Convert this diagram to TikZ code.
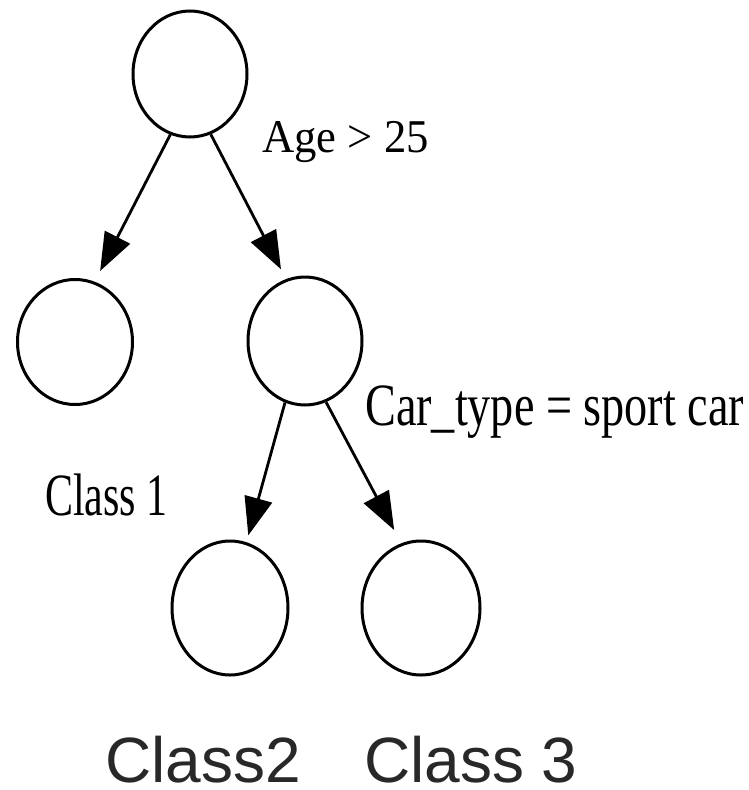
\documentclass[tikz,border=0pt]{standalone}
\usepackage{fontspec}
\setmainfont{Liberation Serif}
\newfontfamily\sansf{Liberation Sans}
\usetikzlibrary{shapes.geometric,arrows.meta}
\definecolor{darkgraytext}{HTML}{282828}
\tikzset{
  treenode/.style={draw=black, line width=3pt, ellipse, inner sep=0pt},
  treeedge/.style={line width=2.8pt, -{Triangle[length=38pt,width=28pt]}},
  condlabel/.style={anchor=base west, inner sep=0pt, text=black},
  classlabel/.style={anchor=base west, inner sep=0pt, text=darkgraytext, font=\sansf\fontsize{64}{64}\selectfont}
}
\begin{document}
\begin{tikzpicture}[x=1pt,y=-1pt]
\useasboundingbox (0,0) rectangle (749,790);
\fill[white] (0,0) rectangle (749,790);
\node[treenode, minimum width=114pt, minimum height=126pt] (root) at (190,74) {};
\node[treenode, minimum width=115pt, minimum height=125pt] (lc) at (75,342) {};
\node[treenode, minimum width=114pt, minimum height=128pt] (rc) at (305,341) {};
\node[treenode, minimum width=116pt, minimum height=134pt] (bl) at (230,608) {};
\node[treenode, minimum width=118pt, minimum height=134pt] (br) at (421,608) {};
\draw[treeedge, shorten >=12pt] (root.252) -- (lc.72);
\draw[treeedge, shorten >=11pt] (root.289) -- (rc.107);
\draw[treeedge, shorten >=7pt] (rc.252) -- (bl.76);
\draw[treeedge, shorten >=15pt] (rc.289) -- (br.107);
\node[condlabel, font=\fontsize{47}{47}\selectfont] (age) at (262,152) {\scalebox{0.95}[1]{Age > 25}};
\node[condlabel, font=\fontsize{60}{60}\selectfont] (car) at (365,425) {\scalebox{0.77}[1]{Car\_type = sport car}};
\node[condlabel, font=\fontsize{60}{60}\selectfont] (c1) at (45,515) {\scalebox{0.70}[1]{Class 1}};
\node[classlabel] (c2) at (105,782) {Class2};
\node[classlabel] (c3) at (364,782) {Class 3};
\end{tikzpicture}
\end{document}
